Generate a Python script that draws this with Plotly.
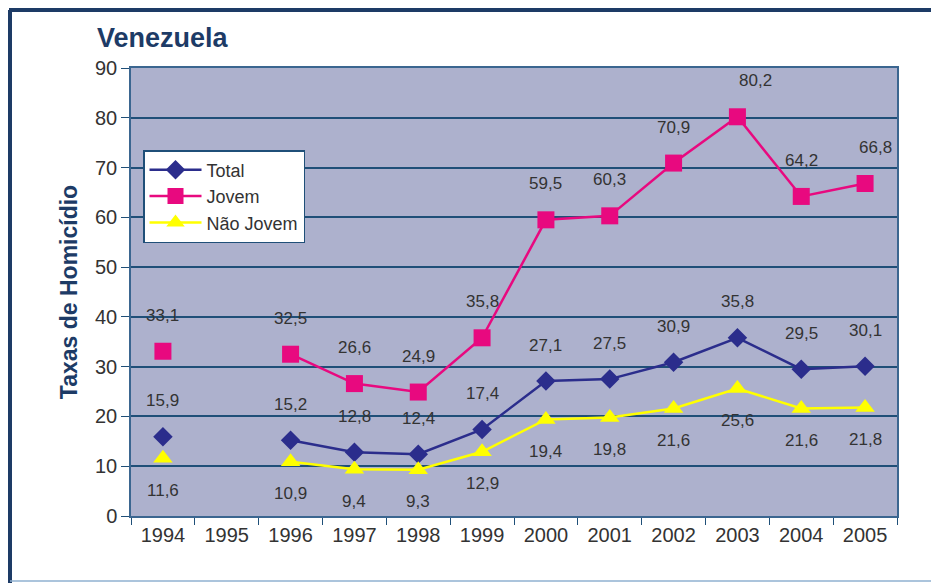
import plotly.graph_objs as go

years = [1994, 1995, 1996, 1997, 1998, 1999, 2000, 2001, 2002, 2003, 2004, 2005]
total = [15.9, None, 15.2, 12.8, 12.4, 17.4, 27.1, 27.5, 30.9, 35.8, 29.5, 30.1]
jovem = [33.1, None, 32.5, 26.6, 24.9, 35.8, 59.5, 60.3, 70.9, 80.2, 64.2, 66.8]
nao_jovem = [11.6, None, 10.9, 9.4, 9.3, 12.9, 19.4, 19.8, 21.6, 25.6, 21.6, 21.8]

navy = '#1d3b66'
grid = '#1f4f78'
font = 'Liberation Sans, Arial, sans-serif'

series = [
    ('Total', total, '#2b2d8c', 'diamond', 15, 36),
    ('Jovem', jovem, '#e8097f', 'square', 17, 36),
    ('Não Jovem', nao_jovem, '#ffff00', 'triangle-up', 17, -32),
]

# a few labels sit a bit to the right in the original
nudge = {('Jovem', 2003): 18, ('Jovem', 2005): 10}

fig = go.Figure()
annotations = []
for name, values, color, symbol, size, shift in series:
    fig.add_trace(go.Scatter(x=years, y=values, name=name, mode='lines+markers',
                             connectgaps=False,
                             line=dict(color=color, width=2.5),
                             marker=dict(symbol=symbol, size=size, color=color)))
    for yr, v in zip(years, values):
        if v is None:
            continue
        annotations.append(dict(x=yr, y=v, text=f'{v:.1f}'.replace('.', ','),
                                showarrow=False, yshift=shift,
                                xshift=nudge.get((name, yr), 0),
                                font=dict(size=17, color='#333333', family=font)))

# page body adds 8px, so the figure is laid out 8px up and left
fig.update_layout(
    width=939, height=583,
    margin=dict(l=123, r=50, t=60, b=75),
    paper_bgcolor='white',
    plot_bgcolor='#adb1cd',
    font=dict(family=font, color='#333333'),
    title=dict(text='<b>Venezuela</b>', x=89 / 939, xanchor='left', xref='container',
               y=1 - 30 / 583, yanchor='middle', yref='container',
               font=dict(size=27, color=navy, family=font)),
    showlegend=True,
    legend=dict(x=12 / 766, y=(516 - 150) / 448, xanchor='left', yanchor='top',
                bgcolor='white', bordercolor=grid, borderwidth=1.5,
                itemwidth=52, tracegroupgap=0,
                font=dict(size=18, color='#333333', family=font)),
    annotations=annotations,
)

fig.update_xaxes(range=[1993.5, 2005.5], tickvals=years, ticks='', automargin=False,
                 minor=dict(tickvals=[y - 0.5 for y in years] + [2005.5], ticks='outside',
                            ticklen=7, tickcolor=grid, showgrid=False),
                 showline=True, linecolor='#3b6690', linewidth=1.5, mirror=True,
                 showgrid=False, zeroline=False, tickfont=dict(size=20, color='#333333'))
fig.update_yaxes(range=[0, 90], dtick=10, ticks='outside', ticklen=8, tickcolor=grid,
                 automargin=False,
                 showline=True, linecolor='#3b6690', linewidth=1.5, mirror=True,
                 gridcolor=grid, gridwidth=2, zeroline=False,
                 tickfont=dict(size=20, color='#333333'),
                 title=dict(text='<b>Taxas de Homicídio</b>', standoff=11,
                            font=dict(size=23, color=navy, family=font)))

# frame: thick top and left edges, thin bottom edge
fig.add_shape(type='line', xref='paper', yref='paper',
              x0=-122 / 766, x1=816 / 766, y0=1 + 58 / 448, y1=1 + 58 / 448,
              line=dict(color=navy, width=4))
fig.add_shape(type='line', xref='paper', yref='paper',
              x0=-121 / 766, x1=-121 / 766, y0=1 + 58 / 448, y1=-75 / 448,
              line=dict(color=navy, width=4))
fig.add_shape(type='line', xref='paper', yref='paper',
              x0=-121 / 766, x1=816 / 766, y0=-65 / 448, y1=-65 / 448,
              line=dict(color='#8fb0d0', width=1.5))

fig.write_html("out.html")
